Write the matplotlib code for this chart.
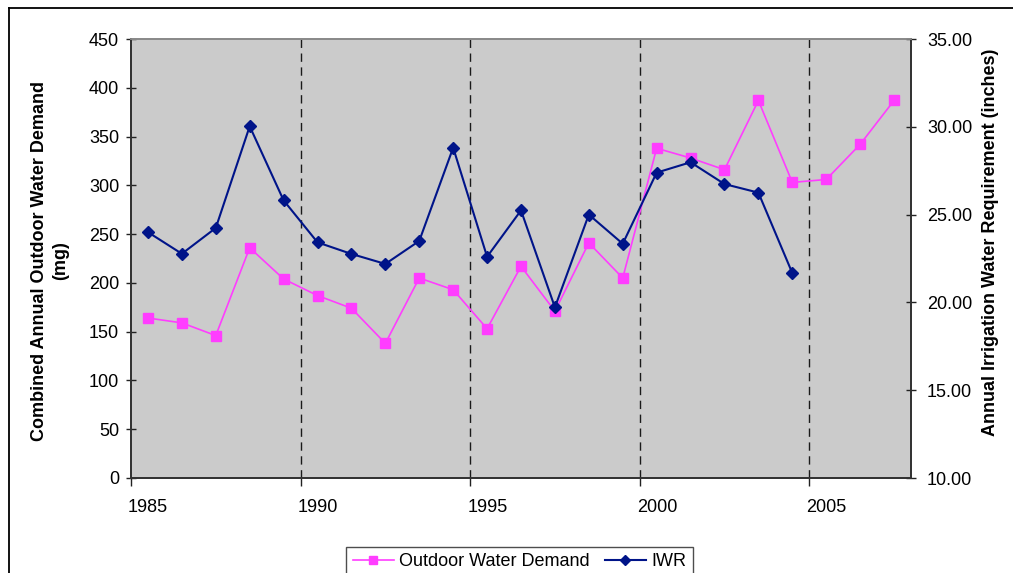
import numpy as np
import matplotlib
matplotlib.use("Agg")
import matplotlib.pyplot as plt
from matplotlib.lines import Line2D

plt.rcParams["font.family"] = ["Liberation Sans", "DejaVu Sans"]

# Annual series
years_demand = list(range(1985, 2008))
outdoor_demand = [164, 159, 146, 236, 204, 187, 174, 138, 205, 193, 153,
                  217, 171, 241, 205, 338, 328, 316, 387, 303, 306, 342, 387]

years_iwr = list(range(1985, 2005))
iwr = [24.0, 22.77, 24.24, 30.03, 25.81, 23.42, 22.76, 22.19, 23.5, 28.81,
       22.6, 25.24, 19.72, 25.0, 23.34, 27.39, 27.98, 26.74, 26.25, 21.67]

x_ticks = [1985, 1990, 1995, 2000, 2005]
left_ticks = [0, 50, 100, 150, 200, 250, 300, 350, 400, 450]
right_ticks = [10, 15, 20, 25, 30, 35]

pink = "#FF3DFF"
navy = "#001489"

W, H = 1013, 573
fig = plt.figure(figsize=(W / 100, H / 100), dpi=100)
ax = fig.add_axes([131 / W, 1 - 478 / H, (911 - 131) / W, (478 - 39) / H])
ax.set_facecolor("#CBCBCB")

# values plotted at mid-year
xd = np.array(years_demand) + 0.5
xi = np.array(years_iwr) + 0.5

ax.plot(xd, outdoor_demand, color=pink, lw=1.2, marker="s", ms=7,
        mec=pink, mfc=pink, zorder=4, label="Outdoor Water Demand")
ax.set_xlim(1985, 2008)
ax.set_ylim(0, 450)
ax.set_xticks(x_ticks)
ax.set_yticks(left_ticks)

for xv in x_ticks[1:]:
    ax.axvline(xv, color="#1a1a1a", lw=1.0, ls=(0, (6, 4)), zorder=1)

ax2 = ax.twinx()
ax2.plot(xi, iwr, color=navy, lw=1.5, marker="D", ms=6.5,
         mec=navy, mfc=navy, zorder=5, label="IWR")
ax2.set_ylim(10, 35)
ax2.set_yticks(right_ticks)
ax2.set_yticklabels([f"{v:.2f}" for v in right_ticks])

for a in (ax, ax2):
    for s in a.spines.values():
        s.set_linewidth(1.3)
        s.set_color("#333333")
    a.spines["top"].set_color("#8a8a8a")

ax.tick_params(axis="x", direction="out", length=6, width=1, pad=9,
               labelsize=13, color="#222222")
ax.tick_params(axis="y", direction="inout", length=7, width=1, pad=5,
               labelsize=13, color="#222222")
ax2.tick_params(axis="y", direction="inout", length=7, width=1, pad=8,
                labelsize=13, color="#222222")
for lbl in ax.get_xticklabels():
    lbl.set_horizontalalignment("left")
    lbl.set_x(0)
import matplotlib.transforms as mtransforms
offset = mtransforms.ScaledTranslation(-3 / 100, 0, fig.dpi_scale_trans)
for lbl in ax.get_xticklabels():
    lbl.set_transform(lbl.get_transform() + offset)

fig.text(50 / W, 1 - 261 / H, "Combined Annual Outdoor Water Demand\n(mg)",
         rotation=90, ha="center", va="center", multialignment="center",
         fontsize=13, fontweight="bold", linespacing=1.3)
fig.text(990 / W, 1 - 242 / H, "Annual Irrigation Water Requirement (inches)",
         rotation=90, ha="center", va="center", fontsize=13, fontweight="bold")

handles = [ax.get_lines()[0], ax2.get_lines()[0]]
leg = fig.legend(handles, [h.get_label() for h in handles], ncol=2,
                 loc="upper center", bbox_to_anchor=((347 + 692) / 2 / W, 1 - 538 / H),
                 fontsize=13, frameon=True, fancybox=False, handlelength=2.3,
                 handletextpad=0.3, columnspacing=0.8, borderpad=0.35,
                 markerscale=0.85)
leg.get_frame().set_edgecolor("#222222")
leg.get_frame().set_linewidth(1.0)

# outer chart frame
fig.add_artist(Line2D([9 / W, 1], [1 - 7.5 / H, 1 - 7.5 / H], color="black", lw=1.3,
                      transform=fig.transFigure))
fig.add_artist(Line2D([9 / W, 9 / W], [0, 1 - 7.5 / H], color="black", lw=1.3,
                      transform=fig.transFigure))

fig.savefig("out.png", dpi=100, facecolor="white")
